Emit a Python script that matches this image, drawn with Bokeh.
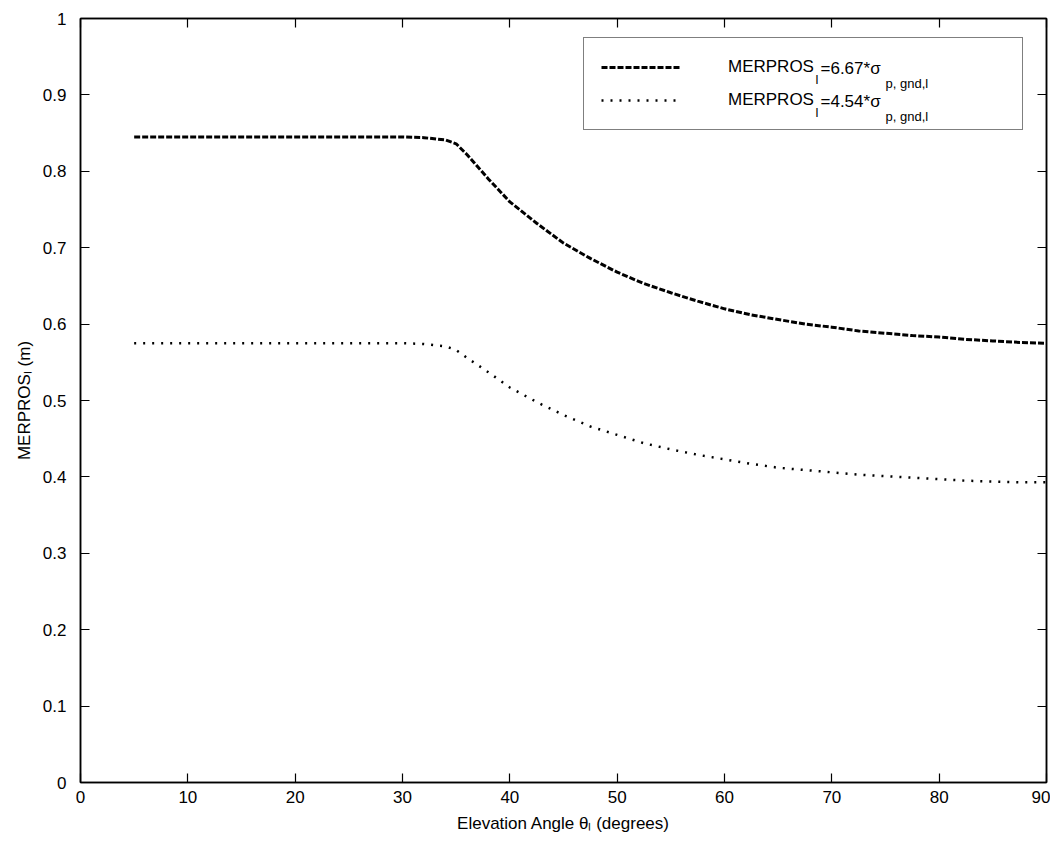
from bokeh.plotting import figure
from bokeh.models import Range1d, FixedTicker, LinearAxis, Legend, LegendItem, Label
from bokeh.embed import file_html
from bokeh.resources import INLINE

# ---------------- data ----------------
elevation_deg = [5, 10, 15, 20, 25, 30, 32, 34, 35, 36, 38, 40,
                 42.5, 45, 47.5, 50, 52.5, 55, 57.5, 60, 62.5, 65,
                 67.5, 70, 72.5, 75, 77.5, 80, 82.5, 85, 87.5, 90]
merpros_667 = [0.845, 0.845, 0.845, 0.845, 0.845, 0.845, 0.844, 0.841, 0.836, 0.822, 0.790, 0.760,
               0.732, 0.706, 0.686, 0.668, 0.653, 0.641, 0.630, 0.620, 0.612, 0.606,
               0.600, 0.596, 0.591, 0.588, 0.585, 0.583, 0.580, 0.578, 0.576, 0.575]
merpros_454 = [0.575, 0.575, 0.575, 0.575, 0.575, 0.575, 0.574, 0.571, 0.566, 0.556, 0.537, 0.517,
               0.498, 0.481, 0.466, 0.455, 0.444, 0.436, 0.429, 0.423, 0.417, 0.412,
               0.409, 0.406, 0.403, 0.401, 0.399, 0.397, 0.395, 0.394, 0.393, 0.393]
x_ticks = [0, 10, 20, 30, 40, 50, 60, 70, 80, 90]
y_ticks = [0, 0.1, 0.2, 0.3, 0.4, 0.5, 0.6, 0.7, 0.8, 0.9, 1]
y_tick_labels = ["0", "0.1", "0.2", "0.3", "0.4", "0.5", "0.6", "0.7", "0.8", "0.9", "1"]
legend_main = ["MERPROS", "MERPROS"]
legend_sub1 = ["l", "l"]
legend_coef = ["=6.67*\u03c3", "=4.54*\u03c3"]
legend_sub2 = ["p, gnd,l", "p, gnd,l"]
x_label = "Elevation Angle \u03b8\u2097 (degrees)"
y_label = "MERPROS\u2097 (m)"

FONT = "Liberation Sans"
FS = "17px"

# frame geometry (page pixels)
FL, FT, FW, FH = 80, 18, 966, 764

p = figure(frame_width=FW, frame_height=FH,
           x_range=Range1d(0, 90), y_range=Range1d(0, 1),
           output_backend="svg", toolbar_location=None,
           min_border_left=FL, min_border_top=FT,
           min_border_right=4, min_border_bottom=0,
           background_fill_color="white", border_fill_color="white")
p.xgrid.visible = False
p.ygrid.visible = False
p.outline_line_color = "black"
p.outline_line_width = 1.5


def style_axis(ax):
    ax.major_tick_in = 9
    ax.major_tick_out = 0
    ax.minor_tick_in = 0
    ax.minor_tick_out = 0
    ax.axis_line_color = "black"
    ax.axis_line_width = 1.5
    ax.major_tick_line_color = "black"
    ax.major_tick_line_width = 1.2
    ax.major_label_text_font = FONT
    ax.major_label_text_color = "black"
    ax.axis_label_text_font = FONT
    ax.axis_label_text_font_size = FS
    ax.axis_label_text_font_style = "normal"
    ax.axis_label_text_color = "black"
    ax.major_label_text_font_size = FS


p.xaxis.ticker = FixedTicker(ticks=x_ticks)
p.yaxis.ticker = FixedTicker(ticks=y_ticks)
p.yaxis.major_label_overrides = {t: s for t, s in zip(y_ticks, y_tick_labels)}
style_axis(p.xaxis[0])
style_axis(p.yaxis[0])
p.xaxis.axis_label = x_label
p.yaxis.axis_label = y_label
p.xaxis.major_label_standoff = 8
p.xaxis.axis_label_standoff = 8
p.yaxis.major_label_standoff = 14
p.yaxis.axis_label_standoff = 6

# mirrored tick axes (top / right), ticks only
top_ax = LinearAxis(ticker=FixedTicker(ticks=x_ticks))
right_ax = LinearAxis(ticker=FixedTicker(ticks=y_ticks))
for ax in (top_ax, right_ax):
    style_axis(ax)
    ax.major_label_text_font_size = "1px"
    ax.major_label_standoff = 0
top_ax.major_label_overrides = {t: "" for t in x_ticks}
right_ax.major_label_overrides = {t: "" for t in y_ticks}
p.add_layout(top_ax, "above")
p.add_layout(right_ax, "right")

r1 = p.line(elevation_deg, merpros_667, line_color="black", line_width=3, line_dash="6 2")
r2 = p.line(elevation_deg, merpros_454, line_color="black", line_width=2.5, line_dash="2 7")

# legend box: left 583, right 1021, bottom 130, top ~39 (page px)
legend = Legend(items=[LegendItem(label=legend_main[0], renderers=[r1]),
                       LegendItem(label=legend_main[1], renderers=[r2])],
                location=(583 - FL, (FT + FH) - 130),
                padding=17, spacing=9, margin=0,
                glyph_width=79, glyph_height=24, label_height=24,
                label_width=277, label_standoff=48,
                label_text_font=FONT, label_text_font_size=FS, label_text_color="black",
                border_line_color="black", border_line_width=1.5,
                background_fill_alpha=0.0)
p.add_layout(legend)


def dx(px):
    return (px - FL) * 90.0 / FW


def dy(py):
    return (FT + FH - py) / FH


row_centers = [68, 101]
for i, rc in enumerate(row_centers):
    p.add_layout(Label(x=dx(815), y=dy(rc + 11), text=legend_sub1[i], text_font=FONT,
                       text_font_size="13px", text_baseline="middle", text_align="left",
                       text_color="black"))
    p.add_layout(Label(x=dx(820), y=dy(rc), text=legend_coef[i], text_font=FONT,
                       text_font_size=FS, text_baseline="middle", text_align="left",
                       text_color="black"))
    p.add_layout(Label(x=dx(885), y=dy(rc + 15), text=legend_sub2[i], text_font=FONT,
                       text_font_size="13px", text_baseline="middle", text_align="left",
                       text_color="black"))

open("out.html", "w").write(file_html(p, INLINE))
